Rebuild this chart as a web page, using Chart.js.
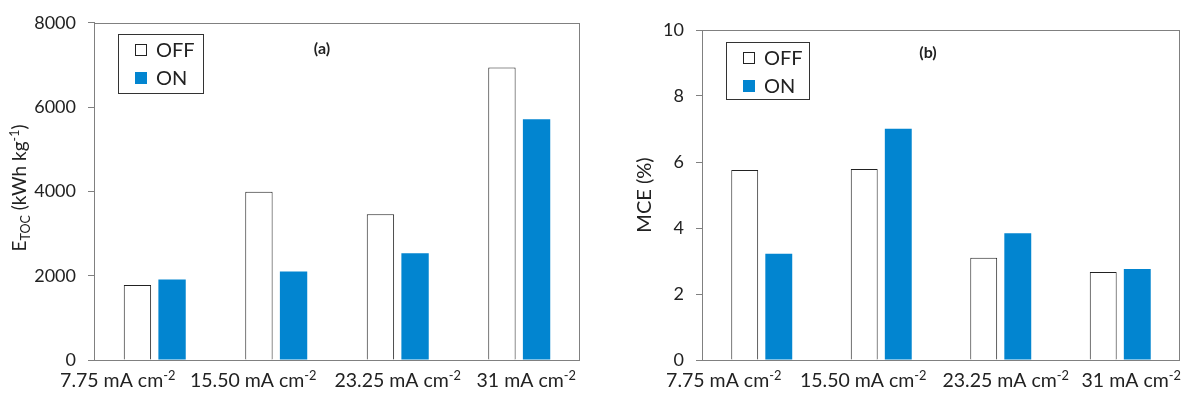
<!DOCTYPE html>
<html lang="en">
<head>
  <meta charset="UTF-8">
  <title>E_TOC and MCE</title>
  <script src="https://cdn.jsdelivr.net/npm/chart.js"></script>
  <style>
    html, body { margin: 0; padding: 0; background: #fff; }
    .wrap { display: flex; width: 1181px; height: 395px; }
    .box { position: relative; height: 395px; }
  </style>
</head>
<body>
  <div class="wrap">
    <div class="box" style="width:590px"><canvas id="chart-a"></canvas></div>
    <div class="box" style="width:591px"><canvas id="chart-b"></canvas></div>
  </div>

  <script>
    // x categories: base text and superscript part
    const categories = ['7.75 mA cm', '15.50 mA cm', '23.25 mA cm', '31 mA cm'];
    const catSuper = '-2';

    // (a) E_TOC, kWh kg-1
    const etocOff = [1780, 3990, 3460, 6940];
    const etocOn  = [1910, 2100, 2530, 5710];
    const etocTicks = [0, 2000, 4000, 6000, 8000];

    // (b) MCE, %
    const mceOff = [5.76, 5.79, 3.10, 2.67];
    const mceOn  = [3.22, 7.01, 3.84, 2.76];
    const mceTicks = [0, 2, 4, 6, 8, 10];

    const seriesNames = ['OFF', 'ON'];
    const BLUE = '#0285d0';
    const AXIS = '#808080';
    const TEXT = '#222';
    const FONT = 'Lato, "Open Sans", sans-serif';

    // draw text runs with sub/superscripts left to right
    function richText(ctx, runs, x, y, size) {
      let cx = x;
      runs.forEach(r => {
        const s = r.small ? size * 0.66 : size;
        ctx.font = s + 'px ' + FONT;
        const dy = r.sup ? -size * 0.38 : (r.sub ? size * 0.2 : 0);
        ctx.fillText(r.t, cx, y + dy);
        cx += ctx.measureText(r.t).width;
      });
      return cx - x;
    }
    function richWidth(ctx, runs, size) {
      let w = 0;
      runs.forEach(r => {
        ctx.font = (r.small ? size * 0.66 : size) + 'px ' + FONT;
        w += ctx.measureText(r.t).width;
      });
      return w;
    }

    const decor = {
      id: 'decor',
      afterDraw(chart, args, o) {
        const ctx = chart.ctx;
        const a = chart.chartArea;
        ctx.save();

        // frame
        ctx.strokeStyle = AXIS;
        ctx.lineWidth = 1;
        ctx.strokeRect(Math.round(a.left) + 0.5, Math.round(a.top) + 0.5,
                       Math.round(a.right - a.left) - 1, Math.round(a.bottom - a.top));

        // x labels with superscript (shifted like the original, which spreads them out)
        ctx.fillStyle = TEXT;
        ctx.textBaseline = 'alphabetic';
        ctx.textAlign = 'left';
        const xs = chart.scales.x;
        categories.forEach((c, i) => {
          const runs = [{ t: c }, { t: catSuper, small: true, sup: true }];
          const w = richWidth(ctx, runs, 19.5);
          richText(ctx, runs, xs.getPixelForTick(i) - w / 2 + o.xShift[i], 387, 19.5);
        });

        // y title, rotated
        ctx.save();
        ctx.translate(o.titleX, o.titleY);
        ctx.rotate(-Math.PI / 2);
        const tw = richWidth(ctx, o.title, o.titleSize);
        richText(ctx, o.title, -tw / 2, 6, o.titleSize);
        ctx.restore();

        // legend
        const L = o.legend;
        ctx.strokeStyle = '#333';
        ctx.strokeRect(L.x + 0.5, L.y + 0.5, L.w, L.h);
        chart.data.datasets.forEach((ds, i) => {
          const cy = L.y + 16 + i * 28;
          if (ds.borderWidth) {
            ctx.fillStyle = '#fff';
            ctx.fillRect(L.x + 17, cy - 6, 12, 12);
            ctx.strokeStyle = '#222';
            ctx.strokeRect(L.x + 17.5, cy - 5.5, 11, 11);
          } else {
            ctx.fillStyle = ds.backgroundColor;
            ctx.fillRect(L.x + 17, cy - 6, 12, 12);
          }
          ctx.fillStyle = TEXT;
          ctx.font = '20px ' + FONT;
          ctx.textBaseline = 'middle';
          ctx.fillText(ds.label, L.x + 38, cy + 1);
        });

        // panel letter
        ctx.font = 'bold 16px ' + FONT;
        ctx.textAlign = 'center';
        ctx.textBaseline = 'middle';
        ctx.fillText(o.letter.t, o.letter.x, o.letter.y);
        ctx.restore();
      }
    };

    function makeChart(id, off, on, ticks, yMax, pad, yWidth, extra) {
      return new Chart(document.getElementById(id), {
        type: 'bar',
        data: {
          labels: categories,
          datasets: [
            { label: seriesNames[0], data: off, backgroundColor: '#fff', borderColor: '#222',
              borderWidth: 1, borderSkipped: 'bottom' },
            { label: seriesNames[1], data: on, backgroundColor: BLUE, borderWidth: 0 }
          ]
        },
        options: {
          responsive: true,
          maintainAspectRatio: false,
          animation: false,
          datasets: { bar: { categoryPercentage: 0.57, barPercentage: 0.79 } },
          layout: { padding: pad },
          plugins: { legend: { display: false }, tooltip: { enabled: false }, decor: extra },
          scales: {
            x: {
              grid: { display: false },
              border: { display: false },
              ticks: { display: false },
              afterFit: s => { s.height = 35; }
            },
            y: {
              min: 0, max: yMax,
              afterBuildTicks: s => { s.ticks = ticks.map(v => ({ value: v })); },
              grid: { drawOnChartArea: false, drawTicks: true, tickLength: 6, color: AXIS },
              border: { display: true, color: AXIS },
              ticks: { color: TEXT, font: { family: FONT, size: 18 }, padding: 12,
                       callback: v => String(v) },
              afterFit: s => { s.width = yWidth; }
            }
          }
        },
        plugins: [decor]
      });
    }

    makeChart('chart-a', etocOff, etocOn, etocTicks, 8000,
      { left: 0, right: 10, top: 22, bottom: 0 }, 94, {
        title: [{ t: 'E' }, { t: 'TOC', small: true, sub: true }, { t: ' (kWh kg' },
                { t: '-1', small: true, sup: true }, { t: ')' }],
        titleX: 20, titleY: 188, titleSize: 19,
        xShift: [-37, -23, 0, 7],
        legend: { x: 118, y: 34, w: 85, h: 59 },
        letter: { t: '(a)', x: 322, y: 49 }
      });

    makeChart('chart-b', mceOff, mceOn, mceTicks, 10,
      { left: 0, right: 1, top: 30, bottom: 0 }, 112, {
        title: [{ t: 'MCE (%)' }],
        titleX: 55, titleY: 195, titleSize: 20,
        xShift: [-38, -18, 5, 11],
        legend: { x: 136, y: 42, w: 83, h: 57 },
        letter: { t: '(b)', x: 338, y: 53 }
      });
  </script>
</body>
</html>
